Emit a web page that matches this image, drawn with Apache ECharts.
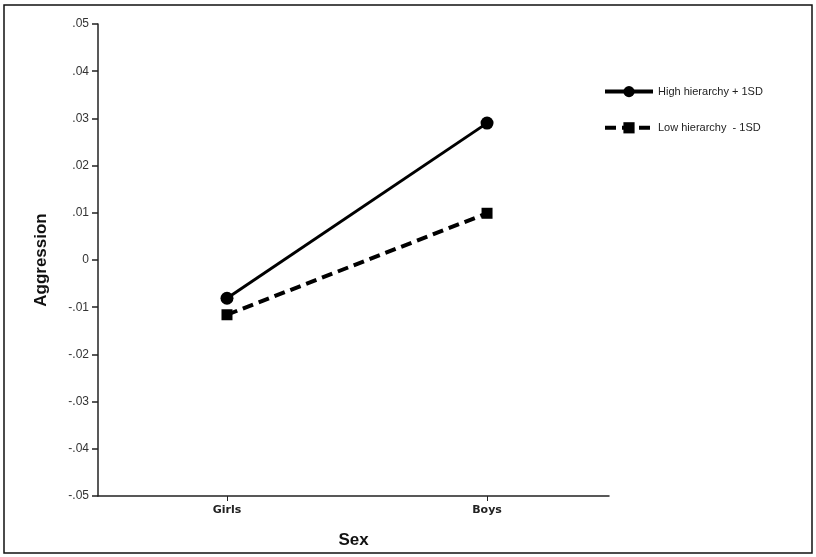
<!DOCTYPE html>
<html>
<head>
<meta charset="utf-8">
<script src="https://cdn.jsdelivr.net/npm/echarts@6/dist/echarts.min.js"></script>
<style>html,body{margin:0;padding:0;background:#fff}#c{width:816px;height:557px}</style>
</head>
<body>
<div id="c"></div>
<script>
const categories = ['Girls', 'Boys'];
const seriesNames = ['High hierarchy + 1SD', 'Low hierarchy  - 1SD'];
const highValues = [-0.0081, 0.029];
const lowValues = [-0.0116, 0.0099];
const yTicks = [-0.05, -0.04, -0.03, -0.02, -0.01, 0, 0.01, 0.02, 0.03, 0.04, 0.05];

function fmt(v) {
  const r = Math.round(v * 100) / 100;
  if (r === 0) return '0';
  const s = Math.abs(r).toFixed(2).replace(/^0/, '');
  return (r < 0 ? '-' : '') + s;
}

const chart = echarts.init(document.getElementById('c'));
chart.setOption({
  animation: false,
  backgroundColor: '#fff',
  graphic: [{
    type: 'rect', shape: {x: 4, y: 5, width: 808, height: 548},
    style: {fill: 'none', stroke: '#111', lineWidth: 1.5}, silent: true
  }],
  grid: {left: 98, top: 24, width: 511, height: 472, containLabel: false},
  legend: {
    orient: 'vertical', left: 603, top: 86, padding: 0, itemWidth: 48, itemHeight: 14, itemGap: 25,
    lineStyle: {width: 4},
    textStyle: {fontFamily: 'Liberation Sans, Arial', fontSize: 11, color: '#222'},
    data: seriesNames
  },
  xAxis: {
    type: 'value', min: 0.504, max: 2.469,
    name: 'Sex', nameLocation: 'middle', nameGap: 36,
    nameTextStyle: {fontFamily: 'Liberation Sans, Arial', fontWeight: 'bold', fontSize: 17, color: '#111'},
    axisLine: {show: true, onZero: false, lineStyle: {color: '#222', width: 1.5}},
    axisTick: {show: true, length: 5, customValues: [1, 2], lineStyle: {color: '#222'}},
    axisLabel: {customValues: [1, 2], margin: 9, formatter: v => categories[Math.round(v) - 1] || '',
      fontFamily: 'DejaVu Sans, Liberation Sans', fontWeight: 'bold', fontSize: 11, color: '#222'},
    splitLine: {show: false}
  },
  yAxis: {
    type: 'value', min: -0.05, max: 0.05, interval: 0.01,
    name: 'Aggression', nameLocation: 'middle', nameGap: 48,
    nameTextStyle: {fontFamily: 'Liberation Sans, Arial', fontWeight: 'bold', fontSize: 17, color: '#111'},
    axisLine: {show: true, onZero: false, lineStyle: {color: '#222', width: 1.5}},
    axisTick: {show: true, length: 6, lineStyle: {color: '#222', width: 1.5}},
    axisLabel: {formatter: fmt, margin: 9, fontFamily: 'Liberation Sans, Arial', fontSize: 12, color: '#333'},
    splitLine: {show: false}
  },
  series: [{
    name: seriesNames[0], type: 'line',
    data: categories.map((c, i) => [i + 1, highValues[i]]),
    symbol: 'circle', symbolSize: 13,
    lineStyle: {color: '#000', width: 3, type: 'solid'},
    itemStyle: {color: '#000'}
  }, {
    name: seriesNames[1], type: 'line',
    data: categories.map((c, i) => [i + 1, lowValues[i]]),
    symbol: 'rect', symbolSize: 11,
    lineStyle: {color: '#000', width: 4, type: [11, 6]},
    itemStyle: {color: '#000'}
  }]
});
</script>
</body>
</html>
